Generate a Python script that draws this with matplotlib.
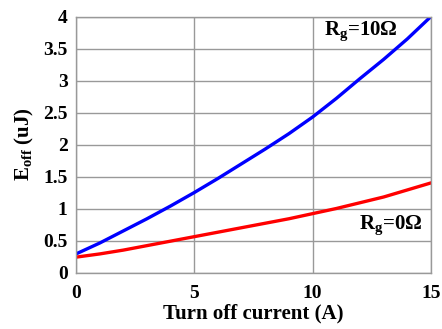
import matplotlib
matplotlib.use("Agg")
import matplotlib.pyplot as plt

plt.rcParams['font.family'] = ['Liberation Serif', 'DejaVu Serif']
plt.rcParams['font.weight'] = 'bold'
plt.rcParams['mathtext.fontset'] = 'custom'
plt.rcParams['mathtext.rm'] = 'Liberation Serif:bold'
plt.rcParams['mathtext.bf'] = 'Liberation Serif:bold'

# turn-off energy vs current
current = [0, 1, 2, 3, 4, 5, 6, 7, 8, 9, 10, 11, 12, 13, 14, 15]
eoff_10ohm = [0.29, 0.46, 0.65, 0.84, 1.04, 1.25, 1.47, 1.70, 1.93, 2.17, 2.43, 2.72, 3.03, 3.33, 3.65, 4.0]
eoff_0ohm = [0.24, 0.29, 0.35, 0.42, 0.49, 0.56, 0.63, 0.70, 0.77, 0.84, 0.92, 1.00, 1.09, 1.18, 1.29, 1.40]

xticks = [0, 5, 10, 15]
yticks = [0, 0.5, 1, 1.5, 2, 2.5, 3, 3.5, 4]
yticklabels = ['0', '0.5', '1', '1.5', '2', '2.5', '3', '3.5', '4']

fig = plt.figure(figsize=(4.42, 3.29), dpi=100)
ax = fig.add_axes([76 / 442, 1 - 272.5 / 329, 355 / 442, 256 / 329])

ax.plot(current, eoff_10ohm, color='#0000ff', lw=2.4,
        solid_capstyle='round', solid_joinstyle='round')
ax.plot(current, eoff_0ohm, color='#ff0000', lw=2.4,
        solid_capstyle='round', solid_joinstyle='round')

ax.set_xlim(0, 15)
ax.set_ylim(0, 4)
ax.set_xticks(xticks)
ax.set_yticks(yticks)
ax.set_yticklabels(yticklabels)
ax.tick_params(length=0, labelsize=14)
ax.tick_params(axis='x', pad=9)
ax.tick_params(axis='y', pad=6)
ax.grid(True, color='#999999', lw=1)
for s in ax.spines.values():
    s.set_color('#999999')
    s.set_linewidth(1)
for lab in ax.get_xticklabels() + ax.get_yticklabels():
    lab.set_fontweight('bold')

ax.set_xlabel('Turn off current (A)', fontsize=15, fontweight='bold', labelpad=1)
ax.set_ylabel(r'E$_{\mathregular{off}}$ (uJ)', fontsize=15, fontweight='bold', labelpad=5)

ax.text(12.05, 3.76, r'R$_{\mathregular{g}}$=10Ω', fontsize=15, fontweight='bold',
        ha='center', va='center')
ax.text(13.3, 0.73, r'R$_{\mathregular{g}}$=0Ω', fontsize=15, fontweight='bold',
        ha='center', va='center')

fig.savefig('out.png', dpi=100)
